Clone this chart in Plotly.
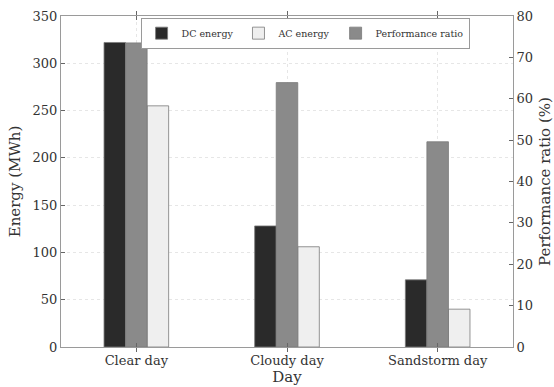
import plotly.graph_objects as go

# Daily energy yield and performance ratio for three weather conditions
days = ["Clear day", "Cloudy day", "Sandstorm day"]
dc_energy = [322, 128, 71]          # MWh
ac_energy = [255, 106, 40]          # MWh
performance_ratio = [73.5, 63.9, 49.6]  # %

pos = [1, 2, 3]
bar_w = 0.143

font_family = "DejaVu Serif"
text_color = "#333333"
edge = dict(color="#7a7a7a", width=0.8)

fig = go.Figure()
fig.add_trace(go.Bar(
    x=pos, y=dc_energy, name="DC energy", width=bar_w, offset=-1.5 * bar_w,
    marker=dict(color="#2a2a2a", line=edge), yaxis="y",
))
fig.add_trace(go.Bar(
    x=pos, y=ac_energy, name="AC energy", width=bar_w, offset=0.5 * bar_w,
    marker=dict(color="#efefef", line=edge), yaxis="y",
))
fig.add_trace(go.Bar(
    x=pos, y=performance_ratio, name="Performance ratio", width=bar_w,
    offset=-0.5 * bar_w, marker=dict(color="#8a8a8a", line=edge), yaxis="y2",
))

axis_line = "#9a9a9a"
grid = "#e6e6e6"
title_font = dict(family=font_family, size=15, color=text_color)

fig.update_layout(
    width=554, height=387,
    margin=dict(l=61, r=41, t=16, b=40),
    paper_bgcolor="white", plot_bgcolor="white",
    font=dict(family=font_family, size=13, color=text_color),
    barmode="overlay",
    showlegend=True,
    legend=dict(
        orientation="h", x=0.54, xanchor="center", y=0.995, yanchor="top",
        bordercolor="#9a9a9a", borderwidth=1, bgcolor="white",
        font=dict(size=9.5, color=text_color), traceorder="normal",
        itemwidth=30, tracegroupgap=0,
    ),
    xaxis=dict(
        range=[0.5, 3.5], tickvals=pos, ticktext=days,
        ticks="inside", ticklen=4, tickcolor="#666666",
        showline=True, linecolor=axis_line, mirror="allticks",
        showgrid=True, gridcolor=grid, griddash="dot", gridwidth=1,
        zeroline=False, automargin=False, ticklabelstandoff=1,
        title=dict(text="Day", font=title_font, standoff=0),
    ),
    yaxis=dict(
        range=[0, 350], dtick=50,
        ticks="inside", ticklen=4, tickcolor="#666666",
        showline=True, linecolor=axis_line,
        showgrid=True, gridcolor=grid, griddash="dot", gridwidth=1,
        zeroline=False, automargin=False,
        title=dict(text="Energy (MWh)", font=title_font, standoff=8),
    ),
    yaxis2=dict(
        range=[0, 80], dtick=10, overlaying="y", side="right",
        ticks="inside", ticklen=4, tickcolor="#666666",
        showline=True, linecolor=axis_line,
        showgrid=False, zeroline=False, automargin=False,
        title=dict(text="Performance ratio (%)", font=title_font, standoff=8),
    ),
)

fig.write_html("out.html")
